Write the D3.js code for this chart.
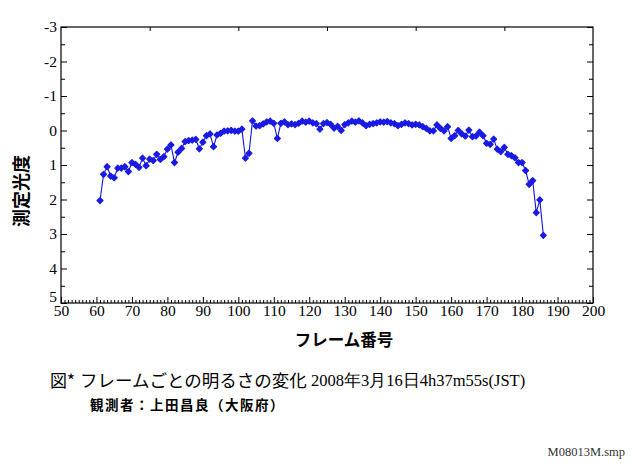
<!DOCTYPE html>
<html><head><meta charset="utf-8">
<script src="https://cdn.jsdelivr.net/npm/d3@7"></script>
<style>
body{margin:0;background:#fff;}
svg{display:block;}
</style></head>
<body>
<svg id="c" width="639" height="472"></svg>
<script>
const frames = d3.range(61, 187);
const magnitudes = [
 2.03,1.27,1.05,1.32,1.37,1.09,1.09,1.05,1.19,0.93,
 0.98,1.07,0.80,1.02,0.83,0.87,0.69,0.84,0.76,0.54,
 0.42,0.93,0.63,0.52,0.32,0.29,0.28,0.26,0.53,0.34,
 0.15,0.10,0.47,0.13,0.08,0.02,0.01,0.00,0.02,0.02,
 -0.04,0.80,0.66,-0.28,-0.13,-0.14,-0.19,-0.25,-0.27,-0.21,
 0.23,-0.21,-0.25,-0.17,-0.19,-0.17,-0.21,-0.27,-0.24,-0.27,
 -0.22,-0.20,-0.04,-0.20,-0.23,-0.18,-0.07,-0.12,0.00,-0.17,
 -0.22,-0.27,-0.24,-0.28,-0.22,-0.14,-0.18,-0.20,-0.22,-0.25,
 -0.24,-0.26,-0.22,-0.20,-0.14,-0.18,-0.22,-0.20,-0.16,-0.18,
 -0.16,-0.11,-0.06,0.01,0.01,-0.16,-0.06,0.01,-0.11,0.23,
 0.15,0.00,0.10,0.16,-0.01,0.18,0.16,0.05,0.15,0.37,
 0.40,0.25,0.54,0.61,0.49,0.69,0.73,0.79,0.93,0.93,
 1.16,1.56,1.45,2.38,2.01,3.04
];
const xTicks = [50,60,70,80,90,100,110,120,130,140,150,160,170,180,190,200];
const yTicks = [-3,-2,-1,0,1,2,3,4,5];
const xLabel = "フレーム番号";
const yLabel = "測定光度";
const figMark = "図*";
const title1 = "フレームごとの明るさの変化";
const title2 = "2008年3月16日4h37m55s(JST)";
const observer = "観測者：上田昌良（大阪府）";
const fileName = "M08013M.smp";

const data = frames.map((f,i)=>({f, m: magnitudes[i]}));
const svg = d3.select("#c");
const x = d3.scaleLinear().domain([50,200]).range([61,593]);
const y = d3.scaleLinear().domain([-3,5]).range([27,303]);
const serif = "'Liberation Serif','DejaVu Serif',serif";
const cjk = "'Noto Sans CJK JP',sans-serif";
const fmt = d => String(d);

// frame
svg.append("rect").attr("x",x(50)).attr("y",y(-3)).attr("width",x(200)-x(50)).attr("height",y(5)-y(-3))
  .attr("fill","none").attr("stroke","#000").attr("stroke-width",1.2);

// bottom axis
const gx = svg.append("g").attr("transform",`translate(0,${y(5)})`)
  .call(d3.axisBottom(x).tickValues(xTicks).tickSize(-6).tickPadding(2).tickFormat(fmt));
gx.select(".domain").remove();
gx.selectAll("text").attr("font-family",serif).attr("font-size",15.5).attr("fill","#000").attr("dy","0.72em");
svg.append("g").attr("transform",`translate(0,${y(5)})`)
  .call(d3.axisBottom(x).tickValues(d3.range(50,201,1).filter(v=>v%10)).tickSize(-3).tickFormat(""))
  .select(".domain").remove();
// top axis
svg.append("g").attr("transform",`translate(0,${y(-3)})`)
  .call(d3.axisTop(x).tickValues([75,100,125,150,175]).tickSize(-4).tickFormat(""))
  .select(".domain").remove();

// left axis
const gy = svg.append("g").attr("transform",`translate(${x(50)},0)`)
  .call(d3.axisLeft(y).tickValues(yTicks).tickSize(-6).tickPadding(4).tickFormat(fmt));
gy.select(".domain").remove();
gy.selectAll("text").attr("font-family",serif).attr("font-size",15.5).attr("fill","#000")
  .attr("dy", d => d === 5 ? "-0.12em" : "0.32em");
svg.append("g").attr("transform",`translate(${x(50)},0)`)
  .call(d3.axisLeft(y).tickValues(d3.range(-2.5,5,1)).tickSize(-4).tickFormat(""))
  .select(".domain").remove();
// right axis
svg.append("g").attr("transform",`translate(${x(200)},0)`)
  .call(d3.axisRight(y).tickValues(yTicks).tickSize(-6).tickFormat(""))
  .select(".domain").remove();
svg.append("g").attr("transform",`translate(${x(200)},0)`)
  .call(d3.axisRight(y).tickValues(d3.range(-2.5,5,1)).tickSize(-4).tickFormat(""))
  .select(".domain").remove();
svg.selectAll(".tick line").attr("stroke","#000").attr("stroke-width",1);

// line + markers
svg.append("path").datum(data)
  .attr("d", d3.line().x(d=>x(d.f)).y(d=>y(d.m)))
  .attr("fill","none").attr("stroke","#1414e0").attr("stroke-width",1.1);
svg.append("g").selectAll("path").data(data).join("path")
  .attr("transform",d=>`translate(${x(d.f)},${y(d.m)}) rotate(45)`)
  .attr("d", d3.symbol(d3.symbolSquare, 17))
  .attr("fill","#1a1ae6").attr("stroke","#1a1ae6").attr("stroke-width",1.3).attr("stroke-linejoin","round");

// axis labels
svg.append("text").attr("x",344).attr("y",346).attr("text-anchor","middle")
  .attr("font-family",cjk).attr("font-size",16.5).attr("font-weight","bold").text(xLabel);
svg.append("text").attr("transform","translate(28,191) rotate(-90)").attr("text-anchor","middle")
  .attr("font-family",cjk).attr("font-size",18).attr("font-weight","bold").text(yLabel);

// captions
svg.append("text").attr("x",50).attr("y",387).attr("font-family",cjk).attr("font-size",17).text(figMark);
svg.append("text").attr("x",80).attr("y",387).attr("font-family",cjk).attr("font-size",17.5).text(title1);
svg.append("text").attr("x",311).attr("y",386).attr("font-family",serif).attr("font-size",16.5).text(title2);
svg.append("text").attr("x",90).attr("y",410).attr("font-family",cjk).attr("font-size",13.5).attr("letter-spacing",1.5).attr("font-weight","bold").text(observer);
svg.append("text").attr("x",625).attr("y",456).attr("text-anchor","end").attr("font-family",serif).attr("font-size",12.5).attr("fill","#333").text(fileName);
</script>
</body></html>
